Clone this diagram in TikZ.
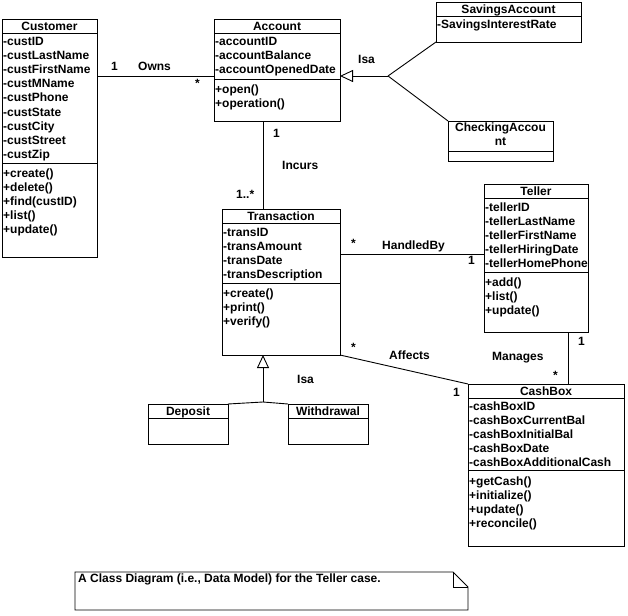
\documentclass[tikz,border=0pt]{standalone}
\usepackage{fontspec}
\setmainfont{Liberation Sans}
\usetikzlibrary{arrows.meta}
\newcommand\dfont{\fontsize{12}{14}\selectfont\bfseries}
\newcommand\umlbox[5]{\node[clsbox, minimum width={(#4)-(#2)}, minimum height={(#5)-(#3)}] (#1) at ({((#2)+(#4))/2},{((#3)+(#5))/2}) {};}
\newcommand\sepline[2]{\draw[conn] (#1.west |- 0,#2) -- (#1.east |- 0,#2);}
\newcommand\rows[3]{\foreach \itm [count=\i from 0] in {#3} \node[txt] at ({#1}, {#2+14*\i}) {\itm};}
\tikzset{
  clsbox/.style={draw, line width=0.9pt, inner sep=0pt, outer sep=0pt},
  txt/.style={anchor=base west, inner sep=0pt, font=\dfont},
  ttl/.style={anchor=base, inner sep=0pt, font=\dfont},
  lbl/.style={anchor=base west, inner sep=0pt, font=\dfont},
  conn/.style={line width=0.9pt},
  gen/.style={conn, -{Triangle[open, length=13pt, width=12pt]}},
}
\begin{document}
\begin{tikzpicture}[x=1pt,y=-1pt]
\useasboundingbox (0,0) rectangle (628,615);

% Customer
\umlbox{cust}{2}{19}{97}{257}
\node[ttl] at (49.5,30.5) {Customer};
\sepline{cust}{33}
\rows{3}{46}{-custID,-custLastName,-custFirstName,-custMName,-custPhone,-custState,-custCity,-custStreet,-custZip}
\sepline{cust}{163}
\rows{3}{177}{+create(),+delete(),+find(custID),+list(),+update()}

% Account
\umlbox{acc}{214}{19}{340}{121}
\node[ttl] at (277,30.5) {Account};
\sepline{acc}{33}
\rows{215}{46}{-accountID,-accountBalance,-accountOpenedDate}
\sepline{acc}{79}
\rows{215}{93}{+open(),+operation()}

% SavingsAccount
\umlbox{sav}{436}{2}{581}{42}
\node[ttl] at (508.5,13.5) {SavingsAccount};
\sepline{sav}{16}
\rows{437}{29}{-SavingsInterestRate}

% CheckingAccount
\umlbox{chk}{448}{121}{553}{161}
\node[ttl] at (500.5,131) {CheckingAccou};
\node[ttl] at (500.5,145) {nt};
\sepline{chk}{151}

% Transaction
\umlbox{trn}{222}{209}{340}{355}
\node[ttl] at (281,220.5) {Transaction};
\sepline{trn}{223}
\rows{223}{236}{-transID,-transAmount,-transDate,-transDescription}
\sepline{trn}{283}
\rows{223}{297}{+create(),+print(),+verify()}

% Teller
\umlbox{tel}{484}{184}{588}{332}
\node[ttl] at (536,195.5) {Teller};
\sepline{tel}{198}
\rows{485}{211}{-tellerID,-tellerLastName,-tellerFirstName,-tellerHiringDate,-tellerHomePhone}
\sepline{tel}{272}
\rows{485}{286}{+add(),+list(),+update()}

% CashBox
\umlbox{cash}{468}{384}{624}{546}
\node[ttl] at (546,395.5) {CashBox};
\sepline{cash}{398}
\rows{469}{410}{-cashBoxID,-cashBoxCurrentBal,-cashBoxInitialBal,-cashBoxDate,-cashBoxAdditionalCash}
\sepline{cash}{470}
\rows{469}{485}{+getCash(),+initialize(),+update(),+reconcile()}

% Deposit / Withdrawal
\umlbox{dep}{148}{404}{228}{444}
\node[ttl] at (188,415) {Deposit};
\sepline{dep}{418}
\umlbox{wdr}{288}{404}{368}{444}
\node[ttl] at (328,415) {Withdrawal};
\sepline{wdr}{418}

% Note
\node[inner sep=0pt, outer sep=0pt, minimum width=393, minimum height=38] (note) at (271.5,591) {};
\draw[conn] (note.south west) -- (note.north west) -- ([xshift=-15pt]note.north east)
  -- ([yshift=-15pt]note.north east) -- (note.south east) -- cycle;
\draw[conn] ([xshift=-15pt]note.north east) -- ([xshift=-15pt,yshift=-15pt]note.north east) -- ([yshift=-15pt]note.north east);
\node[lbl] at (78,582) {A Class Diagram (i.e., Data Model) for the Teller case.};

% Owns
\draw[conn] (cust.east |- 0,76) -- (acc.west |- 0,76);
\node[lbl] at (111,71) {1};
\node[lbl] at (138,71) {Owns};
\node[lbl] at (195,87.5) {*};

% Account generalization
\coordinate (f1) at (388,76);
\draw[gen] (f1) -- (acc.east |- f1);
\draw[conn] (f1) -- (sav.south west);
\draw[conn] (f1) -- (chk.north west);
\node[lbl] at (358,64) {Isa};

% Incurs
\draw[conn] (acc.south -| 263,0) -- (trn.north -| 263,0);
\node[lbl] at (273,137) {1};
\node[lbl] at (282,169) {Incurs};
\node[lbl] at (236,198) {1..*};

% HandledBy
\draw[conn] (trn.east |- 0,254) -- (tel.west |- 0,254);
\node[lbl] at (351,247) {*};
\node[lbl] at (382,249) {HandledBy};
\node[lbl] at (468,264) {1};

% Affects
\draw[conn] (trn.south east) -- (cash.north west);
\node[lbl] at (351,351) {*};
\node[lbl] at (389,359) {Affects};
\node[lbl] at (453,396) {1};

% Manages
\draw[conn] (tel.south -| 568,0) -- (cash.north -| 568,0);
\node[lbl] at (578,345) {1};
\node[lbl] at (492,360) {Manages};
\node[lbl] at (553,379) {*};

% Transaction generalization
\coordinate (f2) at (263,402);
\draw[gen] (f2) -- (trn.south -| f2);
\draw[conn] (f2) -- (dep.north east);
\draw[conn] (f2) -- (wdr.north west);
\node[lbl] at (297,383) {Isa};
\end{tikzpicture}
\end{document}
